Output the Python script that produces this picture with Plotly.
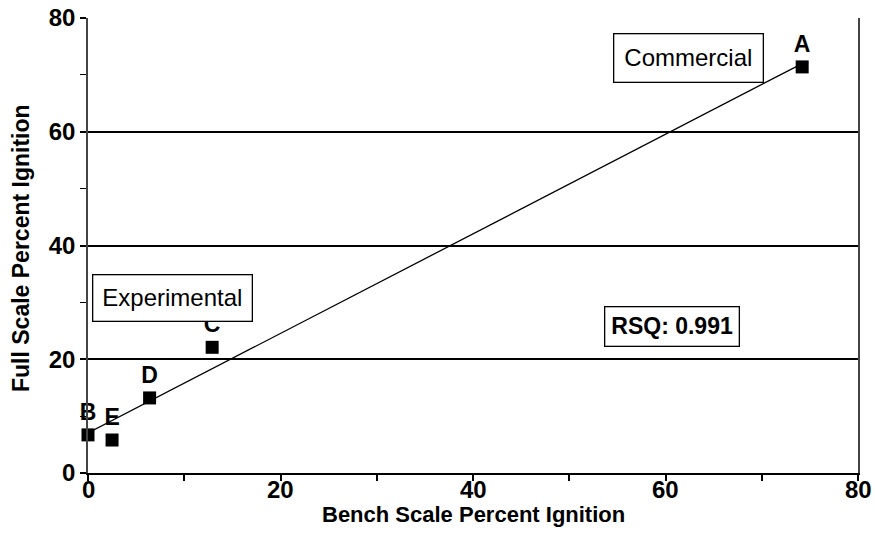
import numpy as np
import plotly.graph_objects as go

labels = ["A", "B", "C", "D", "E"]
bench = [74.2, 0.0, 12.9, 6.4, 2.5]
full = [71.4, 6.7, 22.1, 13.2, 5.8]
x_ticks = [0, 20, 40, 60, 80]
y_ticks = [0, 20, 40, 60, 80]
rsq_text = "RSQ: 0.991"
x_title = "Bench Scale Percent Ignition"
y_title = "Full Scale Percent Ignition"

slope, intercept = np.polyfit(bench, full, 1)
fit_x = np.array([min(bench), max(bench)])
fit_y = slope * fit_x + intercept

FONT = "Liberation Sans, Arial, sans-serif"

fig = go.Figure()
fig.add_trace(go.Scatter(x=fit_x, y=fit_y, mode="lines", cliponaxis=False,
                         line=dict(color="black", width=1.3), hoverinfo="skip"))
fig.add_trace(go.Scatter(x=bench, y=full, mode="markers+text", text=labels,
                         textposition="top center", cliponaxis=False,
                         textfont=dict(family=FONT, size=23, color="black", weight="bold"),
                         marker=dict(symbol="square", size=13, color="black")))

fig.update_layout(
    width=875, height=537,
    margin=dict(l=88, r=17, t=18, b=64),
    plot_bgcolor="white", paper_bgcolor="white",
    showlegend=False,
    font=dict(family=FONT, color="black"),
    xaxis=dict(range=[0, 80], tickvals=x_ticks, showgrid=False, zeroline=False,
               automargin=False, showticklabels=False,
               ticks="outside", ticklen=6, tickwidth=1.5, tickcolor="black",
               minor=dict(dtick=10, ticks="outside", ticklen=6, tickwidth=1.5, tickcolor="black"),
               showline=True, linecolor="black", linewidth=2),
    yaxis=dict(range=[0, 80], tickvals=y_ticks, showgrid=True,
               gridcolor="black", gridwidth=1.5, zeroline=False,
               automargin=False,
               ticks="outside", ticklen=6, tickwidth=1.5, tickcolor="black",
               minor=dict(dtick=10, ticks="outside", ticklen=6, tickwidth=1.2, tickcolor="black",
                          showgrid=False),
               showline=True, linecolor="#444", linewidth=1.5, mirror=True,
               tickfont=dict(size=24, family=FONT, weight="bold")),
)

# x tick labels, placed at the axis values
for v in x_ticks:
    fig.add_annotation(text=str(v), x=v, xref="x", yref="paper", y=(473 - 489) / 455,
                       xanchor="center", yanchor="middle", showarrow=False,
                       font=dict(size=24, family=FONT, weight="bold"))

# axis titles
fig.add_annotation(text=x_title, xref="paper", yref="paper", x=0.5, y=(473 - 514) / 455,
                   xanchor="center", yanchor="middle", showarrow=False,
                   font=dict(size=22, family=FONT, weight="bold"))
fig.add_annotation(text=y_title, xref="paper", yref="paper", x=(21 - 88) / 770,
                   y=(473 - 248) / 455, textangle=-90,
                   xanchor="center", yanchor="middle", showarrow=False,
                   font=dict(size=23, family=FONT, weight="bold"))

box = dict(bordercolor="black", borderwidth=1.3, bgcolor="white", showarrow=False,
           xref="paper", yref="paper")
fig.add_annotation(text="Commercial", x=(613 - 88) / 770, y=(473 - 58) / 455,
                   xanchor="left", yanchor="middle", borderpad=10,
                   font=dict(size=24, family=FONT), **box)
fig.add_annotation(text="Experimental", x=(92 - 88) / 770, y=(473 - 298) / 455,
                   xanchor="left", yanchor="middle", borderpad=9,
                   font=dict(size=24, family=FONT), **box)
fig.add_annotation(text=rsq_text, x=(604 - 88) / 770, y=(473 - 326) / 455,
                   xanchor="left", yanchor="middle", borderpad=6,
                   font=dict(size=23, family=FONT, weight="bold"), **box)

fig.write_html("out.html")
